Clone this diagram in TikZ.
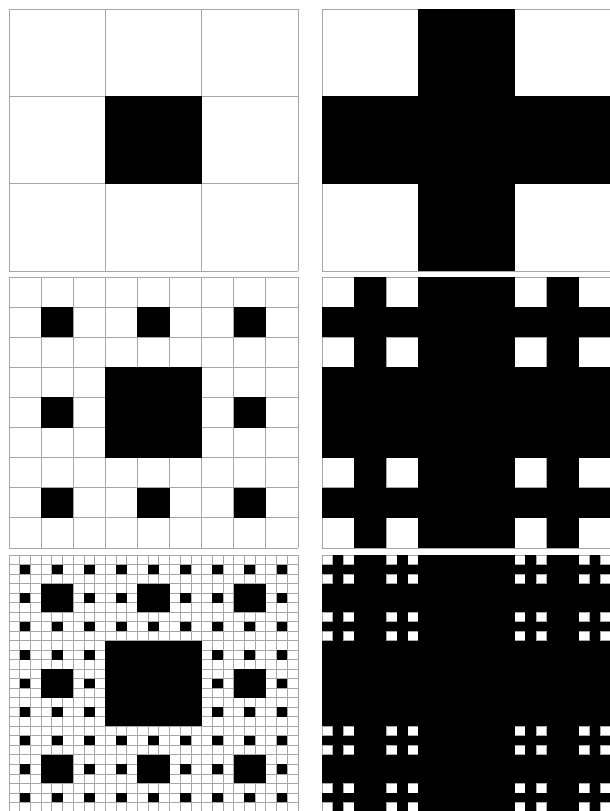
\documentclass[tikz,border=0pt]{standalone}
\usepackage{amsmath,amssymb,graphicx,color,tikz}

\tikzset{
    gridline/.style={black!35, line width=0.8pt},
    hole/.style={fill=black},
}

\begin{document}
\begin{tikzpicture}[x=1pt,y=-1pt]
    \useasboundingbox (0,0) rectangle (610,811);
    \clip (0,0) rectangle (610,811);

    % One row per level: top edge / height / level
    \foreach \ya/\hgt/\lev in {9/262/1, 277/271/2, 555/257/3} {
        \pgfmathtruncatemacro\N{3^\lev}

        % Grids for both columns
        \foreach \xa in {9,322} {
            \foreach \k in {0,...,\N} {
                \draw[gridline] ({\xa+289*\k/\N},\ya) -- ++(0,\hgt);
                \draw[gridline] (\xa,{\ya+\hgt*\k/\N}) -- ++(289,0);
            }
        }

        % Black cells, scale by scale
        \foreach \m in {1,...,\lev} {
            \pgfmathtruncatemacro\M{3^\m}
            \pgfmathtruncatemacro\T{\M/3-1}
            \pgfmathsetmacro\cw{289/\M}
            \pgfmathsetmacro\ch{\hgt/\M}
            % left: carpet holes
            \foreach \a in {0,...,\T} {
                \foreach \b in {0,...,\T} {
                    \fill[hole] ({9+(3*\a+1)*\cw},{\ya+(3*\b+1)*\ch}) rectangle ++(\cw,\ch);
                }
            }
            % right: crosses
            \foreach \a in {0,...,\T} {
                \fill[hole] ({322+(3*\a+1)*\cw},\ya) rectangle ++(\cw,\hgt);
                \fill[hole] (322,{\ya+(3*\a+1)*\ch}) rectangle ++(289,\ch);
            }
        }
    }
\end{tikzpicture}
\end{document}
